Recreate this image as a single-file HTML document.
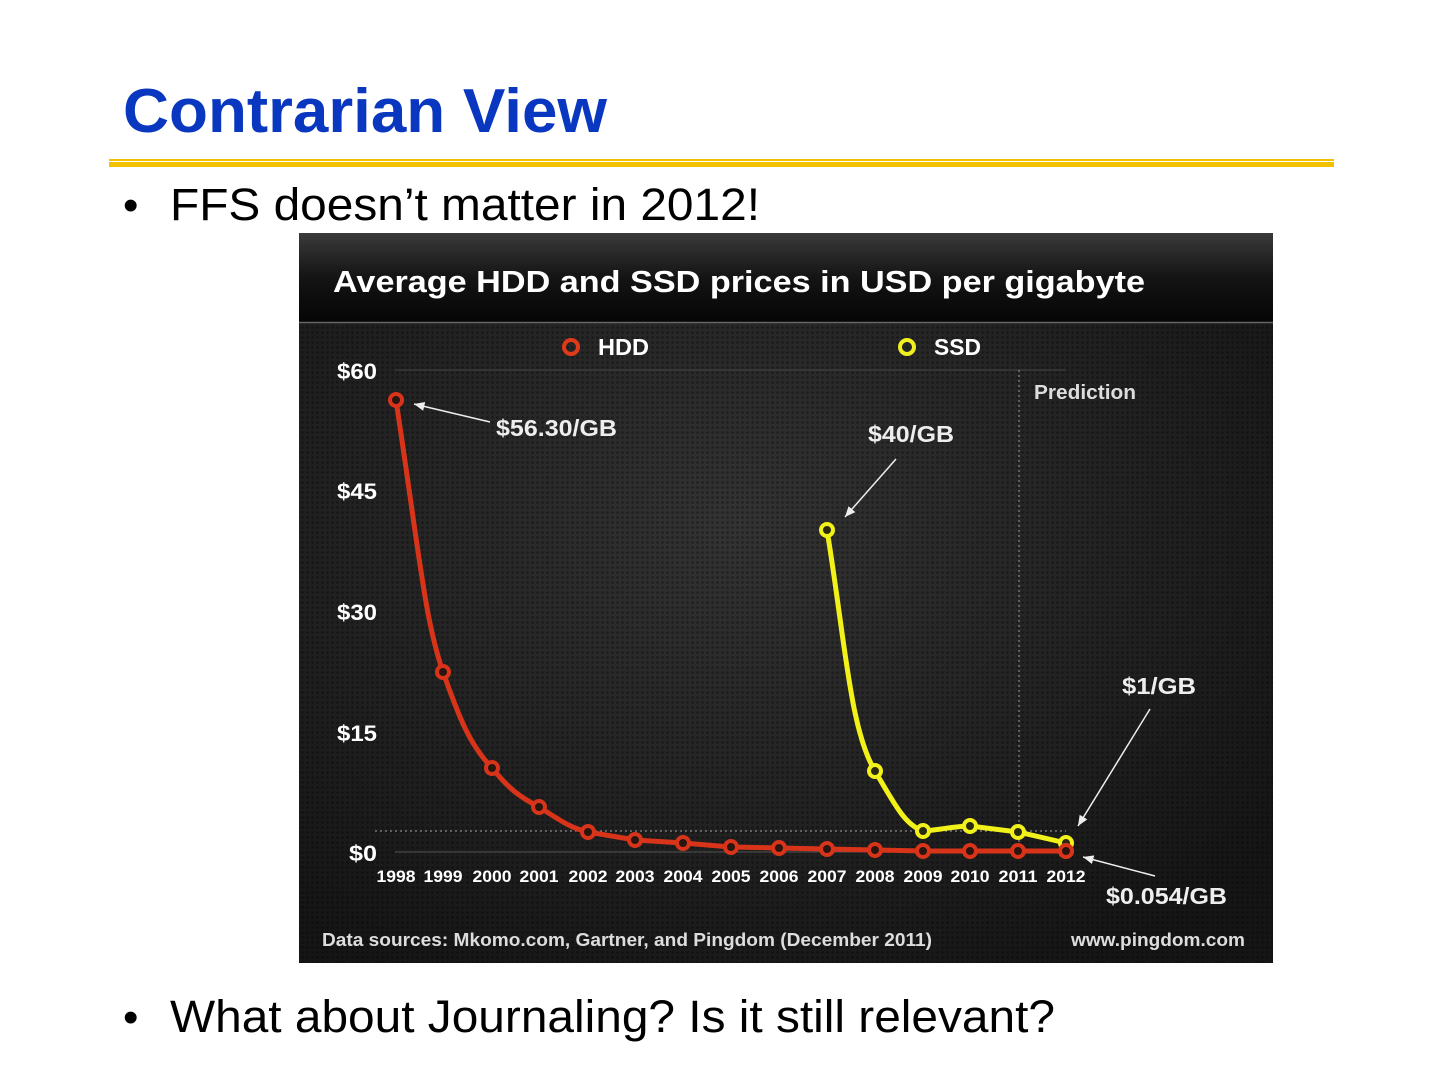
<!DOCTYPE html>
<html><head><meta charset="utf-8"><style>
html,body{margin:0;padding:0;background:#fff;}
body{width:1440px;height:1080px;position:relative;overflow:hidden;font-family:"Liberation Sans",Arial,sans-serif;}
</style></head><body>
<svg width="1440" height="1080" viewBox="0 0 1440 1080" xmlns="http://www.w3.org/2000/svg" style="position:absolute;left:0;top:0">
<defs>
<linearGradient id="hd" x1="0" y1="0" x2="0" y2="1">
<stop offset="0" stop-color="#3a3a3a"/><stop offset="0.5" stop-color="#141414"/><stop offset="1" stop-color="#050505"/>
</linearGradient>
<radialGradient id="bg" cx="0.45" cy="0.4" r="0.7">
<stop offset="0" stop-color="#333"/><stop offset="1" stop-color="#151515"/>
</radialGradient>
<pattern id="dots" width="5" height="5" patternUnits="userSpaceOnUse">
<circle cx="2.5" cy="2.5" r="1.3" fill="#000" opacity="0.35"/>
</pattern>
<marker id="ar" markerWidth="8" markerHeight="8" refX="7" refY="4" orient="auto"><path d="M0,1 L7,4 L0,7 z" fill="#eee"/></marker>
</defs>
<text x="123" y="132" font-size="62" font-weight="bold" fill="#0a37bf" textLength="484" lengthAdjust="spacingAndGlyphs">Contrarian View</text>
<rect x="109" y="159" width="1225" height="2" fill="#f2c200"/>
<rect x="109" y="162" width="1225" height="5" fill="#f2c200"/>
<text x="123" y="220" font-size="44" fill="#000">•</text>
<text x="170" y="220" font-size="45" fill="#000" textLength="590" lengthAdjust="spacingAndGlyphs">FFS doesn’t matter in 2012!</text>
<text x="123" y="1032" font-size="44" fill="#000">•</text>
<text x="170" y="1032" font-size="45" fill="#000" textLength="885" lengthAdjust="spacingAndGlyphs">What about Journaling? Is it still relevant?</text>

<rect x="299" y="233" width="974" height="730" fill="url(#bg)"/>
<rect x="299" y="322" width="974" height="641" fill="url(#dots)"/>
<rect x="299" y="233" width="974" height="89" fill="url(#hd)"/>
<line x1="299" y1="322.5" x2="1273" y2="322.5" stroke="#666" stroke-width="1.5"/>
<text x="333" y="292" font-size="31" font-weight="bold" fill="#fff" textLength="812" lengthAdjust="spacingAndGlyphs">Average HDD and SSD prices in USD per gigabyte</text>

<g font-weight="bold" fill="#fff" font-size="22">
<text x="337" y="379" textLength="40" lengthAdjust="spacingAndGlyphs">$60</text>
<text x="337" y="499" textLength="40" lengthAdjust="spacingAndGlyphs">$45</text>
<text x="337" y="620" textLength="40" lengthAdjust="spacingAndGlyphs">$30</text>
<text x="337" y="741" textLength="40" lengthAdjust="spacingAndGlyphs">$15</text>
<text x="349" y="861" textLength="28" lengthAdjust="spacingAndGlyphs">$0</text>
</g>
<line x1="395" y1="370" x2="1066" y2="370" stroke="#444" stroke-width="1"/>
<line x1="395" y1="852" x2="1066" y2="852" stroke="#555" stroke-width="1"/>
<line x1="375" y1="831" x2="1066" y2="831" stroke="#888" stroke-width="1.2" stroke-dasharray="2,3"/>
<line x1="1019" y1="370" x2="1019" y2="850" stroke="#888" stroke-width="1.2" stroke-dasharray="2,3"/>
<text x="1034" y="399" font-size="20" font-weight="bold" fill="#ddd" textLength="102" lengthAdjust="spacingAndGlyphs">Prediction</text>

<circle cx="571" cy="347" r="7" fill="none" stroke="#e03a1a" stroke-width="4"/>
<text x="598" y="355" font-size="23" font-weight="bold" fill="#fff" textLength="51" lengthAdjust="spacingAndGlyphs">HDD</text>
<circle cx="907" cy="347" r="7" fill="none" stroke="#f0f020" stroke-width="4"/>
<text x="934" y="355" font-size="23" font-weight="bold" fill="#fff" textLength="47" lengthAdjust="spacingAndGlyphs">SSD</text>

<g font-size="17" font-weight="bold" fill="#fff" text-anchor="middle">
<text x="396" y="882" textLength="39" lengthAdjust="spacingAndGlyphs">1998</text><text x="443" y="882" textLength="39" lengthAdjust="spacingAndGlyphs">1999</text><text x="492" y="882" textLength="39" lengthAdjust="spacingAndGlyphs">2000</text><text x="539" y="882" textLength="39" lengthAdjust="spacingAndGlyphs">2001</text><text x="588" y="882" textLength="39" lengthAdjust="spacingAndGlyphs">2002</text><text x="635" y="882" textLength="39" lengthAdjust="spacingAndGlyphs">2003</text><text x="683" y="882" textLength="39" lengthAdjust="spacingAndGlyphs">2004</text><text x="731" y="882" textLength="39" lengthAdjust="spacingAndGlyphs">2005</text><text x="779" y="882" textLength="39" lengthAdjust="spacingAndGlyphs">2006</text><text x="827" y="882" textLength="39" lengthAdjust="spacingAndGlyphs">2007</text><text x="875" y="882" textLength="39" lengthAdjust="spacingAndGlyphs">2008</text><text x="923" y="882" textLength="39" lengthAdjust="spacingAndGlyphs">2009</text><text x="970" y="882" textLength="39" lengthAdjust="spacingAndGlyphs">2010</text><text x="1018" y="882" textLength="39" lengthAdjust="spacingAndGlyphs">2011</text><text x="1066" y="882" textLength="39" lengthAdjust="spacingAndGlyphs">2012</text>
</g>

<path d="M396,400 C420,560 425,620 443,672 C460,720 470,745 492,768 C510,790 520,797 539,807 C560,820 570,828 588,832 L635,840 L683,843 L731,847 L779,848 L827,849 L875,850 L923,851 L970,851 L1018,851 L1066,851" fill="none" stroke="#d8341a" stroke-width="5"/>
<g fill="#2a1510" stroke="#d8341a" stroke-width="4">
<circle cx="396" cy="400" r="6"/><circle cx="443" cy="672" r="6"/><circle cx="492" cy="768" r="6"/><circle cx="539" cy="807" r="6"/><circle cx="588" cy="832" r="6"/><circle cx="635" cy="840" r="6"/><circle cx="683" cy="843" r="6"/><circle cx="731" cy="847" r="6"/><circle cx="779" cy="848" r="6"/><circle cx="827" cy="849" r="6"/><circle cx="875" cy="850" r="6"/><circle cx="923" cy="851" r="6"/><circle cx="970" cy="851" r="6"/><circle cx="1018" cy="851" r="6"/><circle cx="1066" cy="851" r="6"/>
</g>
<path d="M827,530 C845,640 850,730 875,771 C895,805 905,825 923,831 C940,830 955,826 970,826 L1018,832 L1066,843" fill="none" stroke="#f2f21a" stroke-width="5"/>
<g fill="#2a2a10" stroke="#f2f21a" stroke-width="4">
<circle cx="827" cy="530" r="6"/><circle cx="875" cy="771" r="6"/><circle cx="923" cy="831" r="6"/><circle cx="970" cy="826" r="6"/><circle cx="1018" cy="832" r="6"/><circle cx="1066" cy="843" r="6"/>
</g>
<circle cx="1066" cy="851" r="6" fill="#2a1510" stroke="#d8341a" stroke-width="4"/>

<g stroke="#eee" stroke-width="1.5" marker-end="url(#ar)">
<line x1="490" y1="422" x2="414" y2="404"/>
<line x1="896" y1="459" x2="845" y2="517"/>
<line x1="1150" y1="709" x2="1078" y2="826"/>
<line x1="1155" y1="876" x2="1083" y2="857"/>
</g>
<g font-weight="bold" fill="#eee" font-size="23">
<text x="496" y="436" textLength="121" lengthAdjust="spacingAndGlyphs">$56.30/GB</text>
<text x="868" y="442" textLength="86" lengthAdjust="spacingAndGlyphs">$40/GB</text>
<text x="1122" y="694" textLength="74" lengthAdjust="spacingAndGlyphs">$1/GB</text>
<text x="1106" y="904" textLength="121" lengthAdjust="spacingAndGlyphs">$0.054/GB</text>
</g>
<text x="322" y="946" font-size="18" font-weight="bold" fill="#ddd" textLength="610" lengthAdjust="spacingAndGlyphs">Data sources: Mkomo.com, Gartner, and Pingdom (December 2011)</text>
<text x="1071" y="946" font-size="18" font-weight="bold" fill="#ddd" textLength="174" lengthAdjust="spacingAndGlyphs">www.pingdom.com</text>
</svg>
</body></html>
